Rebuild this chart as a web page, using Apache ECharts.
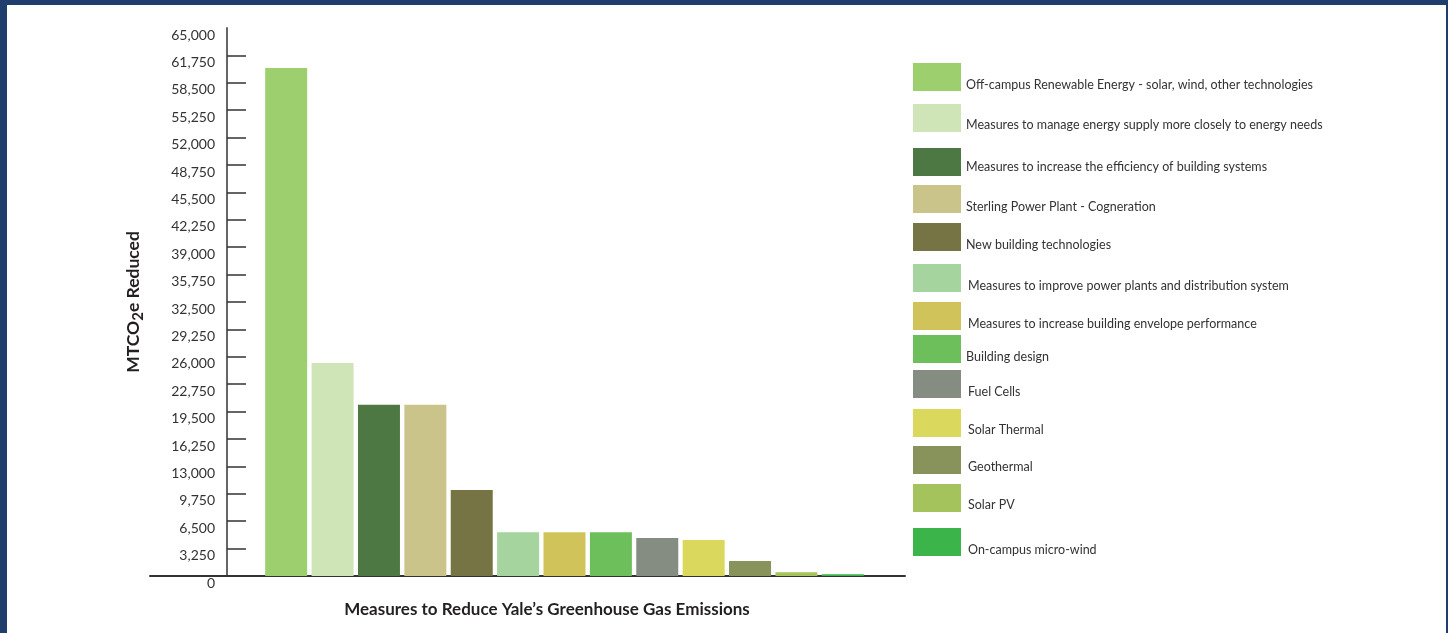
<!DOCTYPE html>
<html>
<head>
<meta charset="utf-8">
<script src="https://cdn.jsdelivr.net/npm/echarts@6/dist/echarts.min.js"></script>
<style>
html,body{margin:0;padding:0;width:1448px;height:633px;background:#1f3e6e;overflow:hidden;}
#chart{position:absolute;left:7px;top:5px;width:1439px;height:628px;background:#ffffff;}
</style>
</head>
<body>
<div id="chart"></div>
<script>
// ---- data ----
const categories = [
  "Off-campus Renewable Energy - solar, wind, other technologies",
  "Measures to manage energy supply more closely to energy needs",
  "Measures to increase the efficiency of building systems",
  "Sterling Power Plant - Cogneration",
  "New building technologies",
  "Measures to improve power plants and distribution system",
  "Measures to increase building envelope performance",
  "Building design",
  "Fuel Cells",
  "Solar Thermal",
  "Geothermal",
  "Solar PV",
  "On-campus micro-wind"
];
const values = [60250, 25250, 20300, 20300, 10200, 5200, 5200, 5200, 4500, 4270, 1780, 450, 200];
const yTickLabels = [0, 3250, 6500, 9750, 13000, 16250, 19500, 22750, 26000, 29250, 32500, 35750, 39000, 42250, 45500, 48750, 52000, 55250, 58500, 61750, 65000];
const yTickMarks = yTickLabels.slice(0, yTickLabels.length - 1);

// ---- styles / layout ----
const colors = ["#9ecf6e", "#cfe5b7", "#4e7843", "#cbc48a", "#767444", "#a5d49e", "#d0c35a",
                "#6cbf5a", "#858d82", "#dbd85e", "#87935a", "#a4c35c", "#3bb54a"];
const legendTops = [58, 99, 143, 180, 218, 259, 297, 330, 365, 404, 441, 479, 523];
const legendTextPad = [16, 14, 10, 16, 15, 16, 16, 16, 16, 14, 13, 14, 16];
const legendLeft = [906, 906, 906, 906, 906, 908, 908, 906, 908, 908, 908, 908, 908];
const FONT = "Lato";

const series = categories.map((name, i) => ({
  name: name,
  type: 'bar',
  stack: 'all',
  xAxisIndex: 0,
  yAxisIndex: 0,
  barWidth: 42,
  itemStyle: { color: colors[i] },
  data: categories.map((c, j) => (j === i ? values[i] : '-'))
}));

const legends = categories.map((name, i) => ({
  data: [name],
  orient: 'vertical',
  left: 906,
  top: legendTops[i],
  padding: 0,
  itemWidth: 48,
  itemHeight: 28,
  itemGap: 0,
  icon: 'rect',
  selectedMode: false,
  formatter: n => '{t|' + n + '}',
  textStyle: {
    fontFamily: FONT, fontSize: 12.5, color: '#333',
    rich: { t: { fontFamily: FONT, fontSize: 12.5, color: '#333',
                 padding: [legendTextPad[i], 0, 0, legendLeft[i] - 906] } }
  }
}));

const chart = echarts.init(document.getElementById('chart'), null, { renderer: 'canvas' });
chart.setOption({
  animation: false,
  backgroundColor: '#ffffff',
  title: {
    text: "Measures to Reduce Yale\u2019s Greenhouse Gas Emissions",
    left: 535,
    textAlign: 'center',
    top: 591,
    textStyle: { fontFamily: FONT, fontSize: 17, fontWeight: 'bold', color: '#231f20' }
  },
  legend: legends,
  grid: [
    { left: 256, top: 23, width: 603, bottom: 57 },
    { left: 143, top: 23, width: 755, bottom: 57 }
  ],
  xAxis: [
    {
      type: 'category', gridIndex: 0, data: categories,
      axisLine: { show: false }, axisTick: { show: false }, axisLabel: { show: false }
    },
    {
      type: 'value', gridIndex: 1, min: 0, max: 1,
      axisLine: { show: true, lineStyle: { color: '#333', width: 2 } },
      axisTick: { show: false }, axisLabel: { show: false }, splitLine: { show: false }
    }
  ],
  yAxis: [
    {
      type: 'value', gridIndex: 0, min: 0, max: 65000, interval: 3250,
      offset: 36,
      name: '{a|MTCO}{s|2}{a|e Reduced}',
      nameLocation: 'middle',
      nameRotate: 90,
      nameGap: 81,
      nameTextStyle: {
        rich: {
          a: { fontFamily: FONT, fontSize: 17.5, fontWeight: 'bold', color: '#231f20' },
          s: { fontFamily: FONT, fontSize: 15, fontWeight: 'bold', color: '#231f20', padding: [10, 0, 0, 0] }
        }
      },
      axisLine: { show: true, lineStyle: { color: '#666', width: 2 } },
      axisTick: { show: true, inside: true, length: 19, customValues: yTickMarks, lineStyle: { color: '#333', width: 1.5 } },
      axisLabel: {
        customValues: yTickLabels,
        margin: 12, fontFamily: FONT, fontSize: 14, color: '#333', verticalAlign: 'top',
        formatter: v => v.toLocaleString('en-US')
      },
      splitLine: { show: false }
    },
    {
      type: 'value', gridIndex: 1, min: 0, max: 1, show: false
    }
  ],
  series: series
});
</script>
</body>
</html>
